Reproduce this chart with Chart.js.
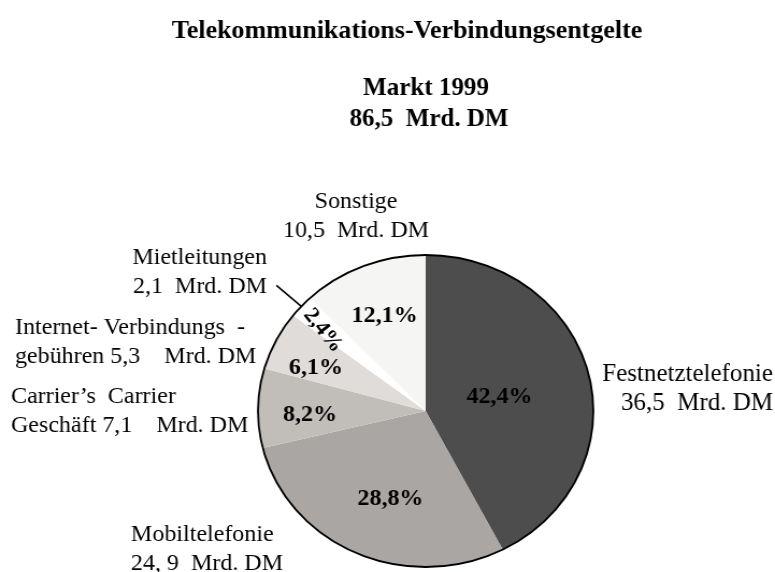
<!DOCTYPE html>
<html lang="de">
<head>
<meta charset="utf-8">
<title>Telekommunikations-Verbindungsentgelte</title>
<script src="https://cdn.jsdelivr.net/npm/chart.js@4.4.1/dist/chart.umd.min.js"></script>
<style>
  html, body { margin: 0; padding: 0; background: #fff; }
</style>
</head>
<body>
<canvas id="chart" width="721" height="572" style="width:775px;height:572px"></canvas>
<script>
const TITLE = "Telekommunikations-Verbindungsentgelte";
const SUBTITLE = ["Markt 1999", "86,5  Mrd. DM"];

// slices, clockwise from 12 o'clock
const categories = ["Festnetztelefonie", "Mobiltelefonie", "Carrier’s Carrier Geschäft", "Internet-Verbindungsgebühren", "Mietleitungen", "Sonstige"];
const shares = [42.4, 28.8, 8.2, 6.1, 2.4, 12.1];
const amounts = [36.5, 24.9, 7.1, 5.3, 2.1, 10.5];
const labelLines = [
  ["Festnetztelefonie", "36,5  Mrd. DM"],
  ["Mobiltelefonie", "24, 9  Mrd. DM"],
  ["Carrier’s  Carrier", "Geschäft 7,1    Mrd. DM"],
  ["Internet- Verbindungs  -", "gebühren 5,3    Mrd. DM"],
  ["Mietleitungen", "2,1  Mrd. DM"],
  ["Sonstige", "10,5  Mrd. DM"],
];

const sliceColors = ["#4c4d4c", "#a9a6a3", "#c1beba", "#dfdcd9", "#ffffff", "#f5f5f4"];

// the picture's pie is a little wider than tall, so the canvas is stretched
const SX = 775 / 721;
const SERIF = "'Liberation Serif', 'Times New Roman', serif";

// where the outside labels sit (screen px): x, first baseline, align, font size
const outerLabelPos = [
  [773, 381, "right", 25],
  [131, 541, "left", 24],
  [11, 403, "left", 24],
  [15, 334, "left", 24],
  [267, 264, "right", 24],
  [356, 208, "center", 24],
];
// % label placement: part of the radius, turn off the slice middle (deg)
const pctRadius = [0.45, 0.6, 0.69, 0.71, 0.8, 0.66];
const pctTurn = [2, -4, -3, -4, -2, 0];

function formatShare(value) {
  return value.toFixed(1).replace(".", ",") + "%";
}

function drawText(ctx, text, x, y, font, align) {
  ctx.save();
  ctx.scale(1 / SX, 1);
  ctx.font = font;
  ctx.textAlign = align || "center";
  ctx.textBaseline = "alphabetic";
  ctx.fillStyle = "#000";
  ctx.fillText(text, x, y);
  ctx.restore();
}

const textPlugin = {
  id: "pieText",
  afterDatasetsDraw(chart) {
    const ctx = chart.ctx;
    const arcs = chart.getDatasetMeta(0).data;
    const first = arcs[0];

    // outline of the pie
    ctx.save();
    ctx.beginPath();
    ctx.arc(first.x, first.y, first.outerRadius, 0, Math.PI * 2);
    ctx.lineWidth = 1.8;
    ctx.strokeStyle = "#000";
    ctx.stroke();
    ctx.restore();

    // titles
    drawText(ctx, TITLE, 407, 38, "bold 26px " + SERIF);
    drawText(ctx, SUBTITLE[0], 426, 95, "bold 25px " + SERIF);
    drawText(ctx, SUBTITLE[1], 429, 126, "bold 25px " + SERIF);

    arcs.forEach((arc, i) => {
      const mid = (arc.startAngle + arc.endAngle) / 2;
      const at = mid + (pctTurn[i] * Math.PI) / 180;
      const r = arc.outerRadius * pctRadius[i];
      const px = (arc.x + Math.cos(at) * r) * SX;
      const py = arc.y + Math.sin(at) * r;
      const label = formatShare(shares[i]);

      if (shares[i] < 3) {
        // thin slice: label runs along the slice
        const rot = Math.atan2(Math.sin(mid), Math.cos(mid) * SX) + Math.PI;
        ctx.save();
        ctx.scale(1 / SX, 1);
        ctx.translate(px, py);
        ctx.rotate(rot + 0.2);
        ctx.font = "bold 22px " + SERIF;
        ctx.textAlign = "center";
        ctx.textBaseline = "middle";
        ctx.fillStyle = "#000";
        ctx.fillText(label, 0, 0);
        ctx.restore();

        // leader line to the outside label
        ctx.save();
        ctx.beginPath();
        ctx.moveTo(arc.x + Math.cos(mid) * arc.outerRadius, arc.y + Math.sin(mid) * arc.outerRadius);
        ctx.lineTo(arc.x + Math.cos(mid) * arc.outerRadius * 1.2, arc.y + Math.sin(mid) * arc.outerRadius * 1.2);
        ctx.lineWidth = 1.6;
        ctx.strokeStyle = "#000";
        ctx.stroke();
        ctx.restore();
      } else {
        ctx.save();
        ctx.scale(1 / SX, 1);
        ctx.font = "bold 24px " + SERIF;
        ctx.textAlign = "center";
        ctx.textBaseline = "middle";
        ctx.fillStyle = "#000";
        ctx.fillText(label, px, py);
        ctx.restore();
      }

      const [lx, ly, align, size] = outerLabelPos[i];
      labelLines[i].forEach((line, k) => {
        drawText(ctx, line, lx, ly + k * 29, size + "px " + SERIF, align);
      });
    });
  },
};

new Chart(document.getElementById("chart"), {
  type: "pie",
  data: {
    labels: categories,
    datasets: [
      {
        data: shares,
        backgroundColor: sliceColors,
        borderWidth: 0,
        radius: 156,
      },
    ],
  },
  options: {
    responsive: false,
    animation: false,
    layout: { padding: { top: 255, bottom: 5, left: 240, right: 169 } },
    plugins: {
      legend: { display: false },
      tooltip: { enabled: false },
    },
  },
  plugins: [textPlugin],
});
</script>
</body>
</html>
